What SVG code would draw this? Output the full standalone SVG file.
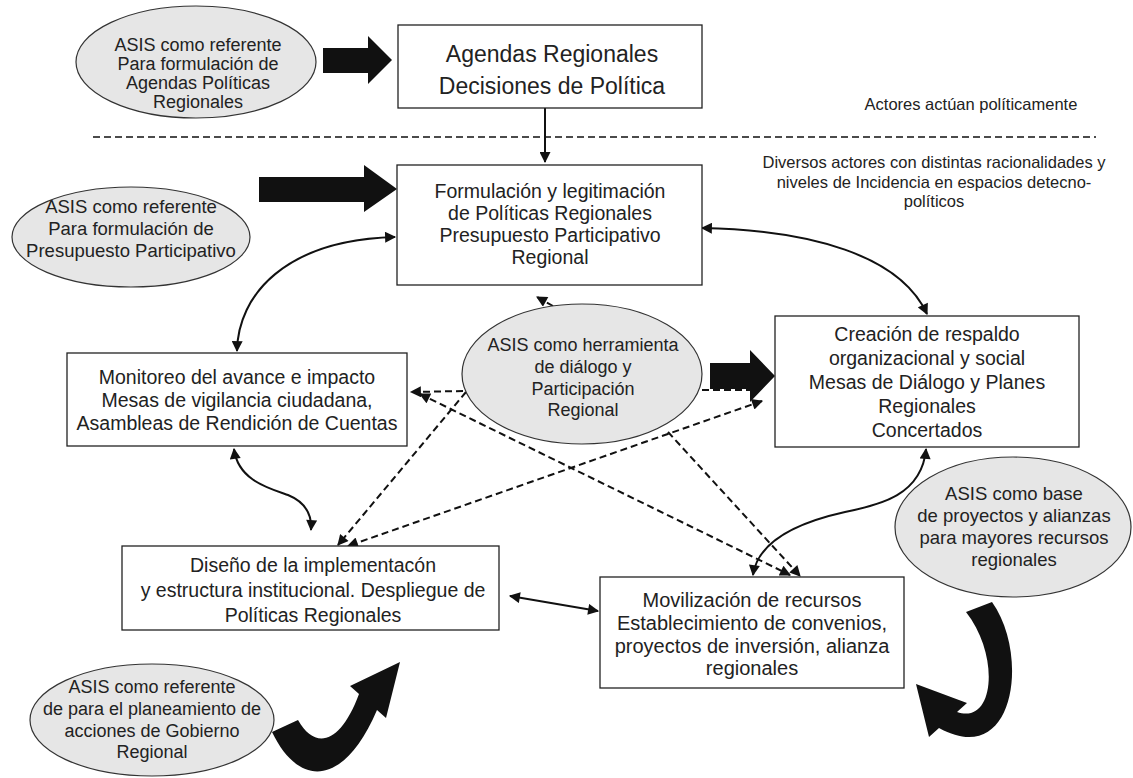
<svg xmlns="http://www.w3.org/2000/svg" width="1133" height="778" viewBox="0 0 1133 778">
<defs>
<style>
text{font-family:"Liberation Sans",Arial,sans-serif;fill:#222;text-anchor:middle}
.bt{font-size:19.5px}
.et{font-size:18px}
.at{font-size:16.5px}
.box{fill:#fff;stroke:#222;stroke-width:1.3}
.ell{fill:#e6e6e6;stroke:#333;stroke-width:1.2}
.big{fill:#111}
.sc{fill:none;stroke:#111;stroke-width:2}
.dc{fill:none;stroke:#111;stroke-width:2;stroke-dasharray:7,4}
</style>
<marker id="ah" viewBox="0 0 10 10" refX="9" refY="5" markerWidth="13" markerHeight="11" markerUnits="userSpaceOnUse" orient="auto-start-reverse"><path d="M0,0 L10,5 L0,10 z" fill="#111"/></marker>
</defs>
<rect width="1133" height="778" fill="#fff"/>

<g id="connectors">
<line x1="93" y1="137" x2="1096" y2="137" stroke="#111" stroke-width="1.5" stroke-dasharray="7,4"/>
<line x1="545" y1="108" x2="545" y2="162" class="sc" marker-end="url(#ah)"/>
<path class="sc" d="M237,351 C238,295 285,240 395,237" marker-start="url(#ah)" marker-end="url(#ah)"/>
<path class="sc" d="M702,228 C810,230 900,255 927,314" marker-start="url(#ah)" marker-end="url(#ah)"/>
<path class="sc" d="M234,449 C238,480 268,488 288,495 C305,502 312,515 311,530" marker-start="url(#ah)" marker-end="url(#ah)"/>
<path class="sc" d="M926,449 C922,495 880,505 845,512 C800,522 758,540 753,575" marker-start="url(#ah)" marker-end="url(#ah)"/>
<line class="sc" x1="510" y1="596" x2="598" y2="611" marker-start="url(#ah)" marker-end="url(#ah)"/>
<line class="dc" x1="463" y1="391" x2="411" y2="392" marker-end="url(#ah)"/>
<line class="dc" x1="420" y1="394" x2="790" y2="575" marker-start="url(#ah)" marker-end="url(#ah)"/>
<line class="dc" x1="466" y1="392" x2="338" y2="545" marker-end="url(#ah)"/>
<line class="dc" x1="762" y1="401" x2="348" y2="546" marker-start="url(#ah)" marker-end="url(#ah)"/>
<line class="dc" x1="668" y1="432" x2="800" y2="576" marker-end="url(#ah)"/>
<line class="dc" x1="702" y1="390" x2="758" y2="390"/>
<line class="dc" x1="553" y1="306" x2="537" y2="297" marker-end="url(#ah)"/>
<polygon class="big" points="323,48 368,48 368,36 392,60 368,84 368,73 323,73"/>
<polygon class="big" points="259,177 364,177 364,165 397,189 364,212 364,202 259,202"/>
<polygon class="big" points="710,363 750,363 750,350 775,376 750,402 750,389 710,389"/>
<path class="big" d="M272,732 C300,790 345,785 377,710 L386,718 L400,662 L350,686 L359,694 C340,745 315,750 298,720 Z"/>
<path class="big" d="M966,612 L992,602 C1030,655 1015,770 939,728 L929,737 L916,684 L967,703 L957,712 C995,725 1000,655 966,612 Z"/>
</g>

<g id="ellA"><ellipse class="ell" cx="196" cy="62" rx="120" ry="56"/>
<text class="et" x="198" y="51">ASIS como referente</text><text class="et" x="198" y="70">Para formulación de</text><text class="et" x="198" y="89">Agendas Políticas</text><text class="et" x="198" y="108">Regionales</text></g>

<g id="agendas"><rect class="box" x="398" y="25" width="304" height="83"/>
<text x="552" y="62" style="font-size:23px">Agendas Regionales</text><text x="552" y="94" style="font-size:23px">Decisiones de Política</text></g>

<g id="notes"><text class="at" x="971" y="110">Actores actúan políticamente</text>
<text class="at" x="934" y="168">Diversos actores con distintas racionalidades y</text>
<text class="at" x="934" y="188">niveles de Incidencia en espacios detecno-</text>
<text class="at" x="934" y="207">políticos</text></g>

<g id="ellB"><ellipse class="ell" cx="131" cy="237" rx="119" ry="50"/>
<text class="et" x="131" y="213" style="font-size:18.5px">ASIS como referente</text><text class="et" x="131" y="235" style="font-size:18.5px">Para formulación de</text><text class="et" x="131" y="257" style="font-size:18.5px">Presupuesto Participativo</text></g>

<g id="formulacion"><rect class="box" x="397" y="165" width="305" height="120"/>
<text class="bt" x="550" y="198">Formulación y legitimación</text><text class="bt" x="550" y="220">de Políticas Regionales</text><text class="bt" x="550" y="242">Presupuesto Participativo</text><text class="bt" x="550" y="264">Regional</text></g>

<g id="monitoreo"><rect class="box" x="67" y="353" width="340" height="93"/>
<text class="bt" x="237" y="384">Monitoreo del avance e impacto</text><text class="bt" x="237" y="407">Mesas de vigilancia ciudadana,</text><text class="bt" x="237" y="430">Asambleas de Rendición de Cuentas</text></g>

<g id="ellC"><ellipse class="ell" cx="582" cy="374" rx="120" ry="70"/>
<text class="et" x="583" y="351">ASIS como herramienta</text><text class="et" x="583" y="373">de diálogo y</text><text class="et" x="583" y="395">Participación</text><text class="et" x="583" y="416">Regional</text></g>

<g id="creacion"><rect class="box" x="775" y="316" width="304" height="131"/>
<text class="bt" x="927" y="341">Creación de respaldo</text><text class="bt" x="927" y="365">organizacional y social</text><text class="bt" x="927" y="389">Mesas de Diálogo y Planes</text><text class="bt" x="927" y="413">Regionales</text><text class="bt" x="927" y="437">Concertados</text></g>

<g id="diseno"><rect class="box" x="122" y="546" width="377" height="84"/>
<text class="bt" x="313" y="572">Diseño de la implementacón</text><text class="bt" x="313" y="597">y estructura institucional. Despliegue de</text><text class="bt" x="313" y="622">Políticas Regionales</text></g>

<g id="movilizacion"><rect class="box" x="600" y="577" width="304" height="111"/>
<text class="bt" x="752" y="607" style="font-size:20px">Movilización de recursos</text><text class="bt" x="752" y="630" style="font-size:20px">Establecimiento de convenios,</text><text class="bt" x="752" y="653" style="font-size:20px">proyectos de inversión, alianza</text><text class="bt" x="752" y="675" style="font-size:20px">regionales</text></g>

<g id="ellD"><ellipse class="ell" cx="1013" cy="527" rx="118" ry="70"/>
<text class="et" x="1014" y="500" style="font-size:18.5px">ASIS como base</text><text class="et" x="1014" y="522" style="font-size:18.5px">de proyectos y alianzas</text><text class="et" x="1014" y="544" style="font-size:18.5px">para mayores recursos</text><text class="et" x="1014" y="566" style="font-size:18.5px">regionales</text></g>

<g id="ellE"><ellipse class="ell" cx="152" cy="720" rx="122" ry="56"/>
<text class="et" x="152" y="693">ASIS como referente</text><text class="et" x="152" y="715">de para el planeamiento de</text><text class="et" x="152" y="737">acciones de Gobierno</text><text class="et" x="152" y="758">Regional</text></g>
</svg>
